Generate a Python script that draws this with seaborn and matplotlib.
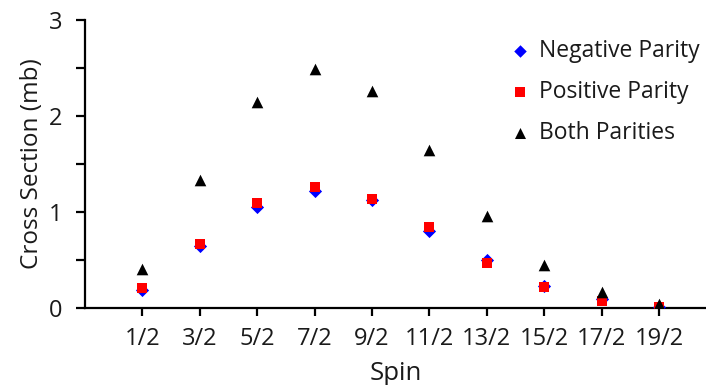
import matplotlib
matplotlib.use("Agg")
import matplotlib.pyplot as plt
from matplotlib.ticker import MultipleLocator
import pandas as pd
import seaborn as sns

spins = ["1/2", "3/2", "5/2", "7/2", "9/2", "11/2", "13/2", "15/2", "17/2", "19/2"]
negative_parity = [0.19, 0.65, 1.05, 1.22, 1.12, 0.80, 0.50, 0.23, 0.09, 0.01]
positive_parity = [0.205, 0.67, 1.09, 1.26, 1.135, 0.84, 0.465, 0.22, 0.07, 0.015]
both_parities = [0.41, 1.33, 2.15, 2.49, 2.26, 1.65, 0.96, 0.45, 0.17, 0.04]

series_names = ["Negative Parity", "Positive Parity", "Both Parities"]
series_values = [negative_parity, positive_parity, both_parities]

rows = []
for name, vals in zip(series_names, series_values):
    for i, (s, v) in enumerate(zip(spins, vals)):
        rows.append({"pos": i, "Spin": s, "value": v, "series": name})
df = pd.DataFrame(rows)

sns.set_theme(style="white")
plt.rcParams["font.family"] = ["Open Sans", "DejaVu Sans"]

fig = plt.figure(figsize=(7.06, 3.85), dpi=100)
ax = fig.add_axes([85 / 706, 77 / 385, 621 / 706, 288 / 385])

palette = {"Negative Parity": "#0000ff", "Positive Parity": "#ff0000", "Both Parities": "#000000"}
markers = {"Negative Parity": "D", "Positive Parity": "s", "Both Parities": "^"}
sizes = {"Negative Parity": 45, "Positive Parity": 60, "Both Parities": 70}

for name in series_names:
    sub = df[df["series"] == name]
    sns.scatterplot(data=sub, x="pos", y="value", color=palette[name],
                    marker=markers[name], s=sizes[name], linewidth=0,
                    label=name, ax=ax, zorder=3)

ax.set_xlim(-1.0, 9.82)
ax.set_ylim(0, 3)
ax.set_xticks(range(len(spins)))
ax.set_xticklabels(spins)
ax.yaxis.set_major_locator(MultipleLocator(1))
ax.yaxis.set_minor_locator(MultipleLocator(0.5))

for side in ["top", "right"]:
    ax.spines[side].set_visible(False)
for side in ["left", "bottom"]:
    ax.spines[side].set_color("black")
    ax.spines[side].set_linewidth(1.6)

text_color = "#1a1a1a"
ax.tick_params(axis="y", which="both", direction="out", left=True, length=6.5,
               width=1.6, color="black", labelsize=17, labelcolor=text_color, pad=10)
ax.tick_params(axis="x", which="major", direction="out", bottom=True, length=6,
               width=1.6, color="black", labelsize=17, labelcolor=text_color, pad=8)

ax.set_xlabel("Spin", fontsize=18.5, color=text_color, labelpad=7)
ax.set_ylabel("Cross Section (mb)", fontsize=17.5, color=text_color, labelpad=3)

leg = ax.legend(loc="upper right", bbox_to_anchor=(1.015, 0.99), frameon=False,
                fontsize=16.5, handlelength=1.0, handletextpad=0.3, labelspacing=0.75,
                markerscale=0.95, borderaxespad=0.3)
for t in leg.get_texts():
    t.set_color(text_color)

fig.savefig("out.png", dpi=100)
